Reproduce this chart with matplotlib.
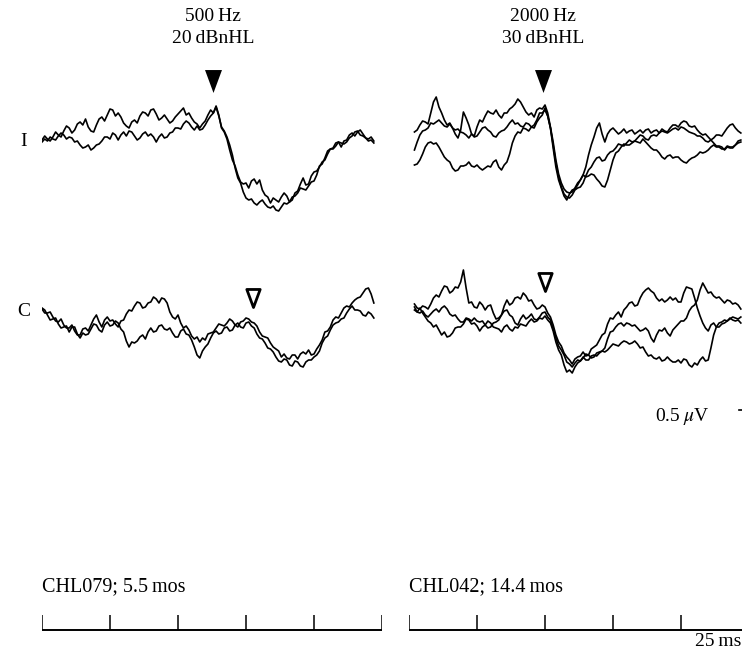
"""
Recreation of a two-child ABR-style waveform panel (ipsilateral I / contralateral C).
Traces are drawn in ms vs microvolts; one axes per child column.
"""

import numpy as np
import matplotlib
matplotlib.use("Agg")
import matplotlib.pyplot as plt
from matplotlib.path import Path

# -------------------------
# Data
# -------------------------
# each trace is read at even ms ("_s") and at the odd ms in between ("_m")
t_left = np.arange(0, 123)       # 0 .. 122 ms
t_right = np.arange(2, 123)      # 2 .. 122 ms

# child 1 (CHL079), 500 Hz, ipsilateral - two repeats (uV)
left_I_a_s = [0.00, 0.01, 0.03, 0.05, 0.09, 0.12, 0.10, 0.18, 0.21, 0.09,
              0.15, 0.23, 0.25, 0.30, 0.27, 0.17, 0.12, 0.20, 0.24, 0.27,
              0.30, 0.26, 0.22, 0.21, 0.19, 0.26, 0.32, 0.27, 0.18, 0.12,
              0.19, 0.30, 0.34, 0.12, 0.01, -0.20, -0.35, -0.44, -0.48, -0.39,
              -0.40, -0.55, -0.63, -0.60, -0.57, -0.56, -0.60, -0.51, -0.38, -0.44,
              -0.32, -0.27, -0.20, -0.09, -0.03, -0.07, 0.00, 0.07, 0.08, 0.06,
              0.01, -0.01]
left_I_a_m = [0.04, -0.01, 0.08, 0.03, 0.14, 0.07, 0.16, 0.15, 0.13, 0.08,
              0.21, 0.19, 0.31, 0.24, 0.23, 0.14, 0.18, 0.17, 0.28, 0.24,
              0.31, 0.20, 0.25, 0.17, 0.23, 0.29, 0.25, 0.22, 0.16, 0.16,
              0.25, 0.27, 0.25, 0.08, -0.10, -0.26, -0.42, -0.43, -0.41, -0.44,
              -0.50, -0.57, -0.58, -0.62, -0.53, -0.62, -0.53, -0.44, -0.45, -0.36,
              -0.31, -0.22, -0.14, -0.08, -0.02, -0.01, 0.05, 0.04, 0.10, 0.02,
              0.03]
left_I_b_s = [-0.02, -0.01, 0.01, 0.04, 0.05, 0.03, -0.02, -0.05, -0.07, -0.10,
              -0.05, -0.01, 0.03, 0.07, 0.00, 0.08, 0.09, 0.04, 0.02, 0.08,
              0.06, -0.02, 0.06, 0.03, 0.08, 0.12, 0.16, 0.17, 0.10, 0.10,
              0.15, 0.24, 0.33, 0.13, 0.03, -0.15, -0.38, -0.52, -0.60, -0.63,
              -0.62, -0.64, -0.68, -0.70, -0.67, -0.64, -0.57, -0.53, -0.49, -0.46,
              -0.41, -0.26, -0.18, -0.09, -0.06, -0.03, -0.02, 0.04, 0.09, 0.04,
              -0.01, -0.03]
left_I_b_m = [0.01, 0.03, 0.00, 0.07, 0.01, 0.02, -0.01, -0.08, -0.05, -0.08,
              -0.04, 0.03, 0.01, 0.05, 0.05, 0.04, 0.08, 0.00, 0.06, 0.04,
              0.03, 0.03, 0.02, 0.07, 0.12, 0.11, 0.19, 0.13, 0.14, 0.11,
              0.20, 0.27, 0.24, 0.09, -0.05, -0.28, -0.43, -0.58, -0.59, -0.65,
              -0.60, -0.67, -0.66, -0.71, -0.63, -0.62, -0.56, -0.48, -0.50, -0.42,
              -0.35, -0.24, -0.11, -0.09, -0.02, -0.04, 0.02, 0.08, 0.05, 0.02,
              0.00]

# child 1, contralateral
left_C_a_s = [0.06, 0.02, -0.02, -0.07, -0.10, -0.13, -0.16, -0.20, -0.13, -0.10,
              0.00, -0.12, -0.02, -0.05, -0.12, -0.05, 0.05, 0.09, 0.12, 0.08,
              0.13, 0.16, 0.17, 0.12, -0.02, 0.00, -0.13, -0.15, -0.24, -0.27,
              -0.25, -0.18, -0.13, -0.10, -0.08, -0.06, -0.12, -0.06, -0.04, -0.08,
              -0.17, -0.22, -0.28, -0.34, -0.42, -0.43, -0.40, -0.44, -0.37, -0.35,
              -0.39, -0.30, -0.17, -0.12, -0.02, 0.02, 0.09, 0.12, 0.17, 0.22,
              0.27, 0.12]
left_C_a_m = [0.02, 0.03, -0.06, -0.04, -0.13, -0.10, -0.20, -0.14, -0.16, -0.04,
              -0.07, -0.05, -0.06, -0.09, -0.06, 0.01, 0.04, 0.13, 0.07, 0.12,
              0.18, 0.12, 0.16, 0.03, -0.04, -0.08, -0.11, -0.21, -0.22, -0.23,
              -0.19, -0.17, -0.09, -0.11, -0.04, -0.10, -0.07, -0.03, -0.07, -0.11,
              -0.21, -0.23, -0.32, -0.36, -0.39, -0.44, -0.40, -0.39, -0.39, -0.40,
              -0.34, -0.25, -0.16, -0.05, -0.03, 0.07, 0.08, 0.15, 0.18, 0.26,
              0.21]
left_C_b_s = [0.07, 0.00, -0.04, -0.09, -0.12, -0.17, -0.12, -0.23, -0.20, -0.14,
              -0.10, -0.17, -0.07, -0.10, -0.08, -0.17, -0.32, -0.28, -0.22, -0.24,
              -0.13, -0.16, -0.10, -0.15, -0.18, -0.22, -0.14, -0.20, -0.32, -0.43,
              -0.32, -0.23, -0.16, -0.18, -0.12, -0.15, -0.08, -0.13, -0.07, -0.13,
              -0.23, -0.28, -0.34, -0.42, -0.47, -0.45, -0.51, -0.47, -0.52, -0.45,
              -0.42, -0.36, -0.23, -0.15, -0.08, -0.04, 0.02, 0.09, 0.05, 0.00,
              0.03, -0.03]
left_C_b_m = [0.05, -0.05, -0.03, -0.13, -0.11, -0.12, -0.19, -0.18, -0.19, -0.09,
              -0.15, -0.10, -0.11, -0.06, -0.14, -0.26, -0.27, -0.26, -0.20, -0.17,
              -0.17, -0.11, -0.14, -0.13, -0.22, -0.16, -0.19, -0.25, -0.40, -0.36,
              -0.29, -0.18, -0.19, -0.13, -0.16, -0.10, -0.12, -0.08, -0.11, -0.19,
              -0.24, -0.33, -0.37, -0.46, -0.44, -0.50, -0.46, -0.51, -0.47, -0.45,
              -0.40, -0.28, -0.21, -0.10, -0.07, -0.03, 0.06, 0.05, 0.04, -0.01,
              0.01]

# child 2 (CHL042), 2000 Hz, ipsilateral - three repeats
right_I_a_s = [0.08, 0.15, 0.18, 0.27, 0.43, 0.27, 0.15, 0.12, 0.02, 0.28,
               0.15, 0.04, 0.20, 0.24, 0.27, 0.30, 0.22, 0.27, 0.33, 0.41,
               0.33, 0.25, 0.23, 0.32, 0.35, 0.13, -0.20, -0.43, -0.52, -0.52,
               -0.43, -0.35, -0.15, 0.03, 0.17, -0.02, 0.10, 0.09, 0.08, 0.07,
               0.10, 0.08, 0.07, 0.11, 0.09, 0.07, 0.09, 0.12, 0.15, 0.17,
               0.18, 0.13, 0.10, 0.05, 0.03, 0.02, 0.05, 0.08, 0.15, 0.12,
               0.07]
right_I_a_m = [0.10, 0.19, 0.16, 0.38, 0.33, 0.20, 0.17, 0.06, 0.10, 0.22,
               0.06, 0.13, 0.18, 0.29, 0.26, 0.25, 0.27, 0.31, 0.36, 0.38,
               0.28, 0.27, 0.30, 0.31, 0.27, -0.02, -0.34, -0.49, -0.53, -0.48,
               -0.40, -0.27, -0.05, 0.12, 0.06, 0.06, 0.12, 0.06, 0.11, 0.09,
               0.06, 0.10, 0.10, 0.07, 0.10, 0.11, 0.08, 0.15, 0.13, 0.19,
               0.14, 0.14, 0.07, 0.06, 0.00, 0.05, 0.04, 0.12, 0.16, 0.09]
right_I_b_s = [-0.10, 0.05, 0.10, 0.17, 0.18, 0.17, 0.13, 0.12, 0.11, 0.07,
               0.02, 0.03, 0.08, 0.13, 0.08, 0.03, 0.09, 0.13, 0.20, 0.17,
               0.13, 0.16, 0.12, 0.22, 0.32, 0.12, -0.23, -0.47, -0.57, -0.55,
               -0.48, -0.43, -0.30, -0.22, -0.17, -0.20, -0.12, -0.08, -0.05, -0.03,
               -0.02, 0.02, 0.04, 0.00, 0.05, 0.07, 0.08, 0.09, 0.12, 0.13,
               0.10, 0.07, 0.04, 0.02, -0.02, -0.03, -0.06, -0.10, -0.08, -0.05,
               0.00]
right_I_b_m = [-0.02, 0.09, 0.12, 0.16, 0.20, 0.14, 0.16, 0.10, 0.08, 0.05,
               0.06, 0.04, 0.12, 0.10, 0.04, 0.07, 0.10, 0.17, 0.16, 0.14,
               0.17, 0.13, 0.18, 0.25, 0.24, -0.05, -0.37, -0.54, -0.58, -0.50,
               -0.47, -0.36, -0.27, -0.18, -0.21, -0.15, -0.11, -0.04, -0.06, 0.00,
               -0.01, 0.05, 0.01, 0.04, 0.04, 0.09, 0.07, 0.11, 0.10, 0.12,
               0.08, 0.06, 0.04, -0.01, 0.00, -0.06, -0.07, -0.07, -0.08, -0.01]
right_I_c_s = [-0.25, -0.20, -0.07, -0.02, -0.03, -0.12, -0.20, -0.28, -0.30, -0.26,
               -0.22, -0.27, -0.28, -0.28, -0.27, -0.20, -0.30, -0.22, -0.03, 0.08,
               0.12, 0.09, 0.15, 0.27, 0.30, 0.12, -0.27, -0.48, -0.60, -0.50,
               -0.45, -0.35, -0.36, -0.35, -0.42, -0.47, -0.30, -0.13, -0.07, -0.05,
               -0.03, -0.02, 0.01, -0.05, -0.10, -0.13, -0.19, -0.15, -0.17, -0.20,
               -0.23, -0.18, -0.15, -0.13, -0.10, -0.05, -0.07, -0.09, -0.07, -0.05,
               -0.02]
right_I_c_m = [-0.24, -0.14, -0.03, -0.04, -0.07, -0.17, -0.22, -0.31, -0.26, -0.25,
               -0.26, -0.25, -0.30, -0.26, -0.22, -0.27, -0.25, -0.14, 0.04, 0.07,
               0.11, 0.13, 0.20, 0.27, 0.24, -0.08, -0.40, -0.56, -0.54, -0.49,
               -0.40, -0.37, -0.34, -0.39, -0.46, -0.40, -0.20, -0.11, -0.04, -0.05,
               -0.01, -0.03, -0.02, -0.08, -0.10, -0.17, -0.16, -0.18, -0.17, -0.22,
               -0.20, -0.17, -0.12, -0.12, -0.07, -0.07, -0.09, -0.06, -0.07, -0.03]

# child 2, contralateral
right_C_a_s = [0.11, 0.06, 0.08, 0.11, 0.20, 0.24, 0.28, 0.24, 0.27, 0.45,
               0.12, 0.08, 0.13, 0.05, 0.10, -0.04, 0.00, 0.15, 0.12, 0.18,
               0.22, 0.14, 0.10, 0.07, 0.08, -0.02, -0.20, -0.31, -0.42, -0.49,
               -0.42, -0.37, -0.40, -0.32, -0.25, -0.18, -0.03, 0.00, -0.02, 0.08,
               0.13, 0.10, 0.22, 0.27, 0.22, 0.14, 0.13, 0.18, 0.17, 0.13,
               0.28, 0.26, 0.07, -0.08, -0.16, -0.08, -0.12, -0.08, -0.03, -0.06,
               -0.08]
right_C_a_m = [0.07, 0.09, 0.06, 0.17, 0.18, 0.29, 0.22, 0.28, 0.33, 0.27,
               0.13, 0.07, 0.10, 0.09, 0.02, -0.03, 0.09, 0.10, 0.17, 0.16,
               0.19, 0.15, 0.06, 0.10, 0.02, -0.10, -0.27, -0.38, -0.45, -0.44,
               -0.41, -0.41, -0.34, -0.30, -0.20, -0.09, -0.04, 0.03, 0.05, 0.12,
               0.09, 0.17, 0.25, 0.24, 0.17, 0.16, 0.15, 0.15, 0.13, 0.22,
               0.27, 0.17, -0.01, -0.13, -0.10, -0.12, -0.09, -0.06, -0.05, -0.05]
right_C_b_s = [0.08, 0.02, 0.00, 0.01, 0.06, 0.07, 0.06, -0.01, -0.04, -0.07,
               -0.04, -0.03, -0.07, -0.10, -0.12, -0.07, 0.00, 0.05, -0.02, -0.10,
               0.00, -0.02, -0.04, -0.02, 0.03, -0.05, -0.23, -0.35, -0.47, -0.52,
               -0.45, -0.43, -0.40, -0.42, -0.37, -0.33, -0.17, -0.12, -0.08, -0.08,
               -0.11, -0.13, -0.15, -0.16, -0.27, -0.15, -0.13, -0.21, -0.12, -0.06,
               -0.03, 0.08, 0.15, 0.32, 0.22, 0.19, 0.18, 0.12, 0.14, 0.12,
               0.06]
right_C_b_m = [0.03, 0.04, -0.02, 0.04, 0.03, 0.09, 0.01, 0.00, -0.07, -0.03,
               -0.06, -0.06, -0.06, -0.13, -0.08, -0.05, 0.04, 0.00, -0.08, -0.04,
               -0.04, 0.01, -0.05, 0.02, -0.02, -0.14, -0.31, -0.40, -0.49, -0.48,
               -0.46, -0.39, -0.43, -0.38, -0.36, -0.24, -0.16, -0.09, -0.11, -0.09,
               -0.10, -0.16, -0.13, -0.23, -0.20, -0.16, -0.18, -0.15, -0.09, -0.06,
               0.04, 0.10, 0.25, 0.27, 0.23, 0.17, 0.15, 0.15, 0.11, 0.10]
right_C_c_s = [0.05, 0.07, -0.02, -0.08, -0.10, -0.20, -0.22, -0.18, -0.12, -0.09,
               -0.05, -0.08, -0.16, -0.10, -0.08, -0.13, -0.17, -0.10, -0.16, -0.13,
               -0.10, -0.07, -0.07, -0.03, -0.01, -0.08, -0.27, -0.40, -0.57, -0.58,
               -0.48, -0.42, -0.45, -0.40, -0.38, -0.37, -0.32, -0.30, -0.28, -0.27,
               -0.28, -0.29, -0.32, -0.41, -0.43, -0.42, -0.45, -0.45, -0.47, -0.48,
               -0.45, -0.52, -0.50, -0.42, -0.45, -0.20, -0.08, -0.05, -0.04, -0.03,
               -0.02]
right_C_c_m = [0.03, 0.02, -0.06, -0.12, -0.15, -0.17, -0.21, -0.13, -0.12, -0.04,
               -0.09, -0.11, -0.12, -0.06, -0.12, -0.14, -0.12, -0.14, -0.12, -0.09,
               -0.11, -0.04, -0.06, -0.04, -0.05, -0.16, -0.35, -0.50, -0.55, -0.52,
               -0.46, -0.45, -0.41, -0.41, -0.36, -0.35, -0.29, -0.31, -0.26, -0.29,
               -0.26, -0.33, -0.37, -0.40, -0.44, -0.46, -0.42, -0.47, -0.45, -0.44,
               -0.50, -0.48, -0.45, -0.46, -0.33, -0.12, -0.07, -0.06, -0.02, -0.04]

# response latencies marked with triangles (ms)
latency_I = [62.9, 49.3]   # filled (response present)
latency_C = [77.4, 50.0]   # open

headers = [("500\u2009Hz", "20\u2009dBnHL"), ("2000\u2009Hz", "30\u2009dBnHL")]
children = ["CHL079; 5.5\u2009mos", "CHL042; 14.4\u2009mos"]

# -------------------------
# Layout (pixels of the 742x655 figure)
# -------------------------
W, H = 742, 655
SWEEP_MS = 125
DIV_MS = 25
PX_PER_MS = 2.72
COL_X0 = [42, 409]
ROW_I = -1.40        # display baseline of ipsi row (uV units, 1 px = 0.01 uV)
ROW_C = -3.15
RULER_Y = -6.30


def join(even, odd):
    """Merge the even-ms and odd-ms readings of one trace."""
    out = np.empty(len(even) + len(odd))
    out[0::2] = even
    out[1::2] = odd
    return out


def fy(y_px):
    return 1 - y_px / H


plt.rcParams['font.family'] = ['Liberation Serif', 'DejaVu Serif']
plt.rcParams['mathtext.fontset'] = 'stix'

fig = plt.figure(figsize=(W / 100, H / 100), dpi=100)

tri_down = Path([(-0.37, 0.5), (0.37, 0.5), (0.0, -0.5), (-0.37, 0.5)],
                [Path.MOVETO, Path.LINETO, Path.LINETO, Path.CLOSEPOLY])

columns = [
    (t_left,
     [join(left_I_a_s, left_I_a_m), join(left_I_b_s, left_I_b_m)],
     [join(left_C_a_s, left_C_a_m), join(left_C_b_s, left_C_b_m)],
     -0.81, -2.98),
    (t_right,
     [join(right_I_a_s, right_I_a_m), join(right_I_b_s, right_I_b_m),
      join(right_I_c_s, right_I_c_m)],
     [join(right_C_a_s, right_C_a_m), join(right_C_b_s, right_C_b_m),
      join(right_C_c_s, right_C_c_m)],
     -0.81, -2.82),
]

for k, (t, ipsi, contra, y_fill, y_open) in enumerate(columns):
    ax = fig.add_axes([COL_X0[k] / W, 0, SWEEP_MS * PX_PER_MS / W, 1])
    ax.set_xlim(0, SWEEP_MS)
    ax.set_ylim(-H / 100, 0)
    ax.axis("off")

    for tr in ipsi:
        ax.plot(t, ROW_I + tr, color="black", lw=1.2)
    for tr in contra:
        ax.plot(t, ROW_C + tr, color="black", lw=1.2)

    ax.plot([latency_I[k]], [y_fill], marker=tri_down, ms=16.5,
            color="black", mew=0)
    ax.plot([latency_C[k]], [y_open], marker=tri_down, ms=13,
            mfc="white", mec="black", mew=2.0)

    # time ruler, 25 ms per division
    ax.plot([0, SWEEP_MS], [RULER_Y, RULER_Y], color="black", lw=1.4,
            solid_capstyle="butt", clip_on=False)
    ax.vlines(np.arange(0, SWEEP_MS + 1, DIV_MS), RULER_Y, RULER_Y + 0.15,
              color="black", lw=1.1)

    cx = (COL_X0[k] + latency_I[k] * PX_PER_MS) / W
    fig.text(cx, fy(21), headers[k][0], ha="center", va="baseline", fontsize=14)
    fig.text(cx, fy(43), headers[k][1], ha="center", va="baseline", fontsize=14)
    fig.text(COL_X0[k] / W, fy(591), children[k], ha="left", va="baseline",
             fontsize=14.5)

    if k == 1:
        # amplitude scale mark at the right edge
        ax.plot([121.5, SWEEP_MS], [-4.10, -4.10], color="black", lw=1.2)

fig.text(24 / W, fy(146), "I", ha="center", va="baseline", fontsize=14)
fig.text(24 / W, fy(316), "C", ha="center", va="baseline", fontsize=14)
fig.text(709 / W, fy(421), "0.5\u2009$\\mu$V", ha="right", va="baseline", fontsize=14)
fig.text(741 / W, fy(646), "25\u2009ms", ha="right", va="baseline", fontsize=14)

fig.savefig("out.png", dpi=100, facecolor="white")
